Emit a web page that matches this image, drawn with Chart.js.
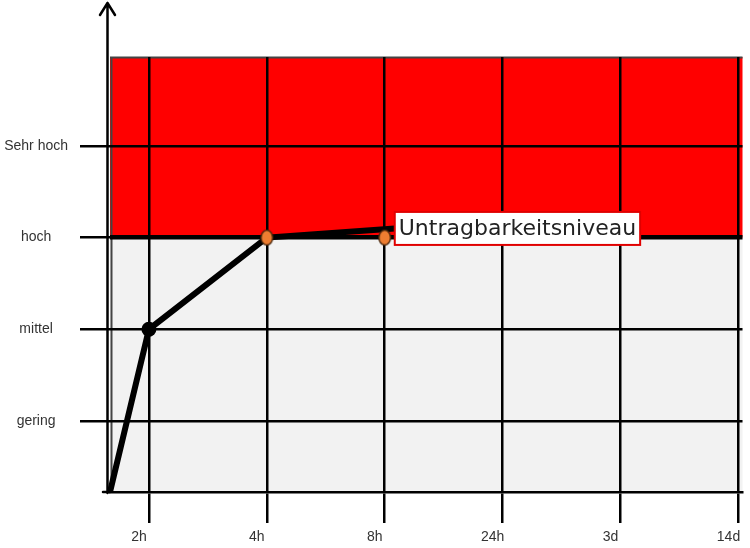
<!DOCTYPE html>
<html>
<head>
<meta charset="utf-8">
<script src="https://cdn.jsdelivr.net/npm/chart.js@4.4.1/dist/chart.umd.min.js"></script>
<style>
  html, body { margin: 0; padding: 0; background: #fff; }
  #wrap { width: 750px; height: 548px; position: relative; }
</style>
</head>
<body>
<div id="wrap"><canvas id="c"></canvas></div>
<script>
// ---- data ----
const categories = ['2h', '4h', '8h', '24h', '3d', '14d'];
const levels = ['gering', 'mittel', 'hoch', 'Sehr hoch'];
const lineX = [0.67, 1, 2, 3.085];
const lineY = [0.225, 2, 3, 3.1];
const markerX = [1, 2, 3];
const markerY = [2, 3, 3];
const thresholdLevel = 3;
const thresholdLabel = 'Untragbarkeitsniveau';
const xRange = [0.67, 6.034];
const yRange = [0.225, 4.97];

// ---- styles ----
const TICK_FONT = '"Liberation Sans"';
const LABEL_FONT = '"DejaVu Sans"';
const RED = '#FF0000';
const GRAY = '#F2F2F2';
const ORANGE = '#ED7D31';

function ellipseMarker() {
  const c = document.createElement('canvas');
  c.width = 15; c.height = 18;
  const g = c.getContext('2d');
  g.beginPath();
  g.ellipse(7.5, 9, 5.8, 7.4, 0, 0, Math.PI * 2);
  g.fillStyle = ORANGE;
  g.fill();
  g.lineWidth = 1.4;
  g.strokeStyle = '#4a260b';
  g.stroke();
  return c;
}
const orangeMark = ellipseMarker();

const bgPlugin = {
  id: 'bg',
  beforeDraw(chart) {
    const { ctx, chartArea: a, scales: { y } } = chart;
    const yT = y.getPixelForValue(thresholdLevel);
    ctx.save();
    ctx.fillStyle = RED;
    ctx.fillRect(a.left, a.top, a.right - a.left, yT - a.top);
    ctx.fillStyle = GRAY;
    ctx.fillRect(a.left, yT, a.right - a.left, a.bottom - yT);
    ctx.strokeStyle = '#444';
    ctx.lineWidth = 2;
    ctx.beginPath();
    ctx.moveTo(a.left, a.top + 0.5);
    ctx.lineTo(a.right, a.top + 0.5);
    ctx.moveTo(a.left + 1.5, a.top);
    ctx.lineTo(a.left + 1.5, a.bottom);
    ctx.stroke();
    ctx.restore();
  }
};

const axisPlugin = {
  id: 'axisArrow',
  afterDraw(chart) {
    const { ctx, chartArea: a } = chart;
    const x = a.left - 2.5;
    ctx.save();
    ctx.strokeStyle = '#000';
    ctx.lineWidth = 2.5;
    ctx.lineCap = 'round';
    ctx.lineJoin = 'round';
    ctx.beginPath();
    ctx.moveTo(x, a.bottom + 1);
    ctx.lineTo(x, 3);
    ctx.moveTo(x - 7.5, 15);
    ctx.lineTo(x, 3);
    ctx.lineTo(x + 7.5, 15);
    ctx.moveTo(a.left - 7, a.bottom);
    ctx.lineTo(a.left, a.bottom);
    ctx.stroke();
    ctx.restore();
  }
};

const labelPlugin = {
  id: 'thresholdLabel',
  afterDatasetsDraw(chart) {
    const { ctx, scales: { x, y } } = chart;
    const n = lineX.length - 1;
    const px = x.getPixelForValue(lineX[n]);
    const py = y.getPixelForValue(lineY[n]);
    ctx.save();
    ctx.font = '22px ' + LABEL_FONT;
    const w = ctx.measureText(thresholdLabel).width + 8;
    const h = 33;
    ctx.fillStyle = '#fff';
    ctx.fillRect(px, py - h / 2, w, h);
    ctx.strokeStyle = '#E00000';
    ctx.lineWidth = 2;
    ctx.strokeRect(px, py - h / 2, w, h);
    ctx.fillStyle = '#222';
    ctx.textBaseline = 'middle';
    ctx.fillText(thresholdLabel, px + 4, py + 1);
    ctx.restore();
  }
};

Chart.defaults.font.family = TICK_FONT;

new Chart(document.getElementById('c'), {
  type: 'scatter',
  data: {
    datasets: [
      {
        type: 'scatter',
        order: 0,
        data: markerX.map((x, i) => ({ x, y: markerY[i] })),
        pointStyle: ['circle', orangeMark, orangeMark],
        pointRadius: 7.5,
        backgroundColor: ['#000', ORANGE, ORANGE],
        borderWidth: 0
      },
      {
        type: 'line',
        order: 1,
        data: lineX.map((x, i) => ({ x, y: lineY[i] })),
        borderColor: '#000',
        borderWidth: 6,
        pointRadius: 0,
        tension: 0,
        fill: false,
        clip: false
      }
    ]
  },
  options: {
    responsive: true,
    maintainAspectRatio: false,
    animation: false,
    layout: { padding: { top: 57, right: 5, left: 0, bottom: 0 } },
    plugins: { legend: { display: false }, tooltip: { enabled: false } },
    scales: {
      x: {
        type: 'linear',
        min: xRange[0],
        max: xRange[1],
        afterBuildTicks: s => { s.ticks = categories.map((_, i) => ({ value: i + 1 })); },
        afterFit: s => { s.height = 56; s.paddingLeft = 0; s.paddingRight = 0; },
        grid: { color: '#000', lineWidth: 2.5, tickLength: 31, tickColor: '#000', tickWidth: 2.5 },
        border: { display: true, color: '#000', width: 2.5 },
        ticks: {
          callback: v => categories[v - 1],
          labelOffset: -10,
          padding: 6,
          maxRotation: 0,
          autoSkip: false,
          color: '#333',
          font: { size: 14 }
        }
      },
      y: {
        type: 'linear',
        min: yRange[0],
        max: yRange[1],
        afterBuildTicks: s => { s.ticks = levels.map((_, i) => ({ value: i + 1 })); },
        afterFit: s => { s.width = 110; s.paddingTop = 0; s.paddingBottom = 0; },
        grid: {
          color: '#000',
          lineWidth: c => (c.tick && c.tick.value === thresholdLevel ? 4.5 : 2.5),
          tickLength: 30,
          tickColor: '#000',
          tickWidth: 2.5
        },
        border: { display: false },
        ticks: {
          callback: v => levels[v - 1],
          crossAlign: 'center',
          padding: 12,
          autoSkip: false,
          color: '#333',
          font: { size: 14 }
        }
      }
    }
  },
  plugins: [bgPlugin, axisPlugin, labelPlugin]
});
</script>
</body>
</html>
